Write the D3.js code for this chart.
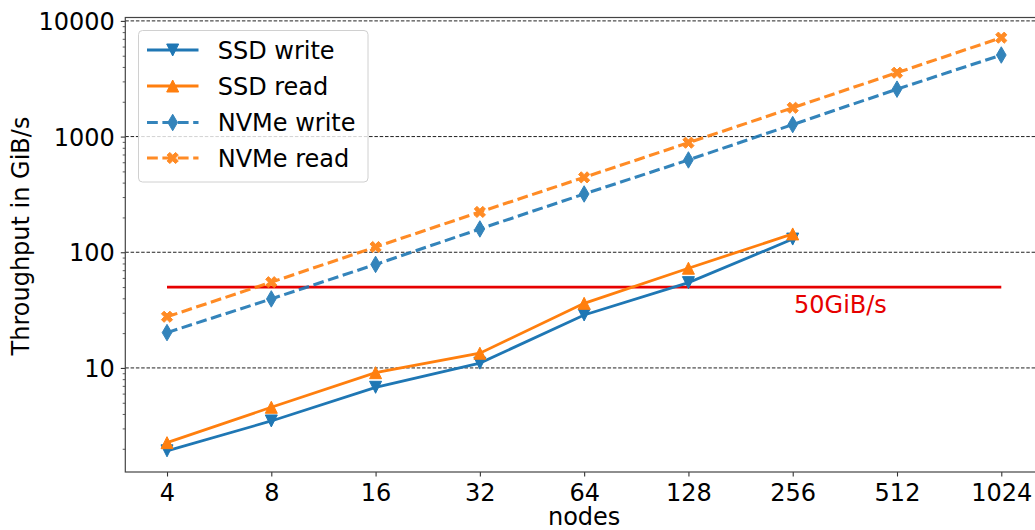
<!DOCTYPE html>
<html>
<head>
<meta charset="utf-8">
<script src="https://cdn.jsdelivr.net/npm/d3@7"></script>
<style>
  html, body { margin: 0; padding: 0; background: #fff; }
  svg { display: block; }
  text { font-family: "DejaVu Sans", sans-serif; }
</style>
</head>
<body>
<svg id="chart" width="1035" height="530"></svg>
<script>
// ---- data ----
const nodes = ["4", "8", "16", "32", "64", "128", "256", "512", "1024"];
const ssdWrite = [1.92, 3.48, 6.8, 11.0, 28.7, 54.6, 130];
const ssdRead = [2.26, 4.57, 9.1, 13.4, 36.2, 72.8, 144];
const nvmeWrite = [20.2, 39.5, 78.5, 159, 319, 628, 1270, 2570, 5070];
const nvmeRead = [27.7, 55.1, 111, 223, 444, 885, 1775, 3565, 7160];
const yTickValues = [10, 100, 1000, 10000];
const limitValue = 50;
const limitLabel = "50GiB/s";
const seriesNames = ["SSD write", "SSD read", "NVMe write", "NVMe read"];

// ---- layout ----
const pLeft = 125.3, pRight = 1043, pTop = 17.5, pBottom = 472;
const blue = "#1f77b4", orange = "#ff7f0e", red = "#e60000";

const svg = d3.select("#chart");

const x = d3.scalePoint().domain(nodes).range([pLeft, pRight]).padding(0.4);
const y = d3.scaleLog().domain([1.26, 10700]).range([pBottom, pTop]);

// clip
svg.append("defs").append("clipPath").attr("id", "clip")
  .append("rect").attr("x", pLeft).attr("y", pTop).attr("width", pRight - pLeft).attr("height", pBottom - pTop);

// grid
svg.append("g").selectAll("line").data(yTickValues).join("line")
  .attr("x1", pLeft).attr("x2", pRight)
  .attr("y1", d => y(d)).attr("y2", d => y(d))
  .attr("stroke", "#222").attr("stroke-width", 1)
  .attr("stroke-dasharray", "3.5,1.8");

// minor ticks
const minor = [];
for (let e = 0; e <= 4; e++) for (let m = 2; m <= 9; m++) {
  const v = m * Math.pow(10, e);
  if (v >= 1.26 && v <= 10700) minor.push(v);
}
const yMinor = d3.axisLeft(y).tickValues(minor).tickSize(2.6).tickFormat("");
svg.append("g").attr("transform", `translate(${pLeft},0)`).call(yMinor)
  .call(g => g.select(".domain").remove())
  .call(g => g.selectAll("line").attr("stroke", "#333").attr("stroke-width", 0.8));

// y axis major
const yAxis = d3.axisLeft(y).tickValues(yTickValues).tickSize(4.5).tickPadding(6)
  .tickFormat(d3.format("d"));
svg.append("g").attr("transform", `translate(${pLeft},0)`).call(yAxis)
  .call(g => g.select(".domain").remove())
  .call(g => g.selectAll("line").attr("stroke", "#333").attr("stroke-width", 1.1))
  .call(g => g.selectAll("text").attr("font-size", 24).attr("fill", "#000")
    .attr("font-family", "DejaVu Sans").attr("dy", "0.36em"));

// x axis
const xAxis = d3.axisBottom(x).tickSize(4.5).tickPadding(6);
svg.append("g").attr("transform", `translate(0,${pBottom})`).call(xAxis)
  .call(g => g.select(".domain").remove())
  .call(g => g.selectAll("line").attr("stroke", "#333").attr("stroke-width", 1.1))
  .call(g => g.selectAll("text").attr("font-size", 24).attr("fill", "#000")
    .attr("font-family", "DejaVu Sans").attr("dy", "0.75em"));

// spines
svg.append("rect").attr("x", pLeft).attr("y", pTop).attr("width", pRight - pLeft).attr("height", pBottom - pTop)
  .attr("fill", "none").attr("stroke", "#444").attr("stroke-width", 1.2);

// markers
function markerPath(type, s) {
  if (type === "tri-down") {
    const h = s / 2;
    return `M${-h},${-h}L${h},${-h}L0,${h}Z`;
  }
  if (type === "tri-up") {
    const h = s / 2;
    return `M${-h},${h}L${h},${h}L0,${-h}Z`;
  }
  if (type === "thin-diamond") {
    const hh = s * 0.58, hw = s * 0.34;
    return `M0,${-hh}L${hw},0L0,${hh}L${-hw},0Z`;
  }
  if (type === "x") {
    const w = 1.9, L = 6.0;
    const pts = [[-w,-L],[w,-L],[w,-w],[L,-w],[L,w],[w,w],[w,L],[-w,L],[-w,w],[-L,w],[-L,-w],[-w,-w]];
    const c = Math.SQRT1_2;
    return "M" + pts.map(([a, b]) => `${(a * c - b * c).toFixed(2)},${(a * c + b * c).toFixed(2)}`).join("L") + "Z";
  }
}

const series = [
  { name: seriesNames[0], values: ssdWrite, color: blue, dash: null, marker: "tri-down", size: 12, opacity: 1, lw: 2.8 },
  { name: seriesNames[1], values: ssdRead, color: orange, dash: null, marker: "tri-up", size: 12, opacity: 1, lw: 2.8 },
  { name: seriesNames[2], values: nvmeWrite, color: blue, dash: "10.8,4.6", marker: "thin-diamond", size: 14.2, opacity: 0.9, lw: 3.1 },
  { name: seriesNames[3], values: nvmeRead, color: orange, dash: "10.8,4.6", marker: "x", size: 12, opacity: 0.9, lw: 3.1 }
];

const plot = svg.append("g").attr("clip-path", "url(#clip)");

// 50 GiB/s reference line
plot.append("line")
  .attr("x1", x(nodes[0])).attr("x2", x(nodes[nodes.length - 1]))
  .attr("y1", y(limitValue)).attr("y2", y(limitValue))
  .attr("stroke", red).attr("stroke-width", 2.8);

const line = d3.line().x((d, i) => x(nodes[i])).y(d => y(d));

series.forEach(s => {
  const g = plot.append("g").attr("opacity", s.opacity);
  g.append("path").attr("d", line(s.values))
    .attr("fill", "none").attr("stroke", s.color).attr("stroke-width", s.lw)
    .attr("stroke-dasharray", s.dash);
  g.selectAll("path.m").data(s.values).join("path").attr("class", "m")
    .attr("d", markerPath(s.marker, s.size))
    .attr("transform", (d, i) => `translate(${x(nodes[i])},${y(d)})`)
    .attr("fill", s.color).attr("stroke", s.color).attr("stroke-width", 1);
});

svg.append("text").attr("x", 794).attr("y", 312.7)
  .attr("font-size", 24).attr("fill", red).text(limitLabel);

// axis labels
svg.append("text").attr("transform", "translate(29,236) rotate(-90)")
  .attr("text-anchor", "middle").attr("font-size", 24).attr("fill", "#000")
  .text("Throughput in GiB/s");
svg.append("text").attr("x", (pLeft + pRight) / 2).attr("y", 525)
  .attr("text-anchor", "middle").attr("font-size", 24).attr("fill", "#000")
  .text("nodes");

// legend
const lg = svg.append("g");
lg.append("rect").attr("x", 138.5).attr("y", 30.5).attr("width", 229.5).attr("height", 151.5)
  .attr("rx", 4).attr("fill", "#fff").attr("fill-opacity", 0.8)
  .attr("stroke", "#d0d0d0").attr("stroke-width", 1);
const ly = [50, 86, 122.5, 158];
series.forEach((s, i) => {
  const g = lg.append("g").attr("transform", `translate(0,${ly[i]})`);
  const gg = g.append("g").attr("opacity", s.opacity);
  gg.append("line").attr("x1", 147).attr("x2", 198.5).attr("y1", 0).attr("y2", 0)
    .attr("stroke", s.color).attr("stroke-width", s.lw).attr("stroke-dasharray", s.dash);
  gg.append("path").attr("d", markerPath(s.marker, s.size))
    .attr("transform", "translate(172.7,0)")
    .attr("fill", s.color).attr("stroke", s.color).attr("stroke-width", 1);
  g.append("text").attr("x", 217.7).attr("y", 0).attr("dy", "0.36em")
    .attr("font-size", 24).attr("fill", "#000").text(s.name);
});
</script>
</body>
</html>
